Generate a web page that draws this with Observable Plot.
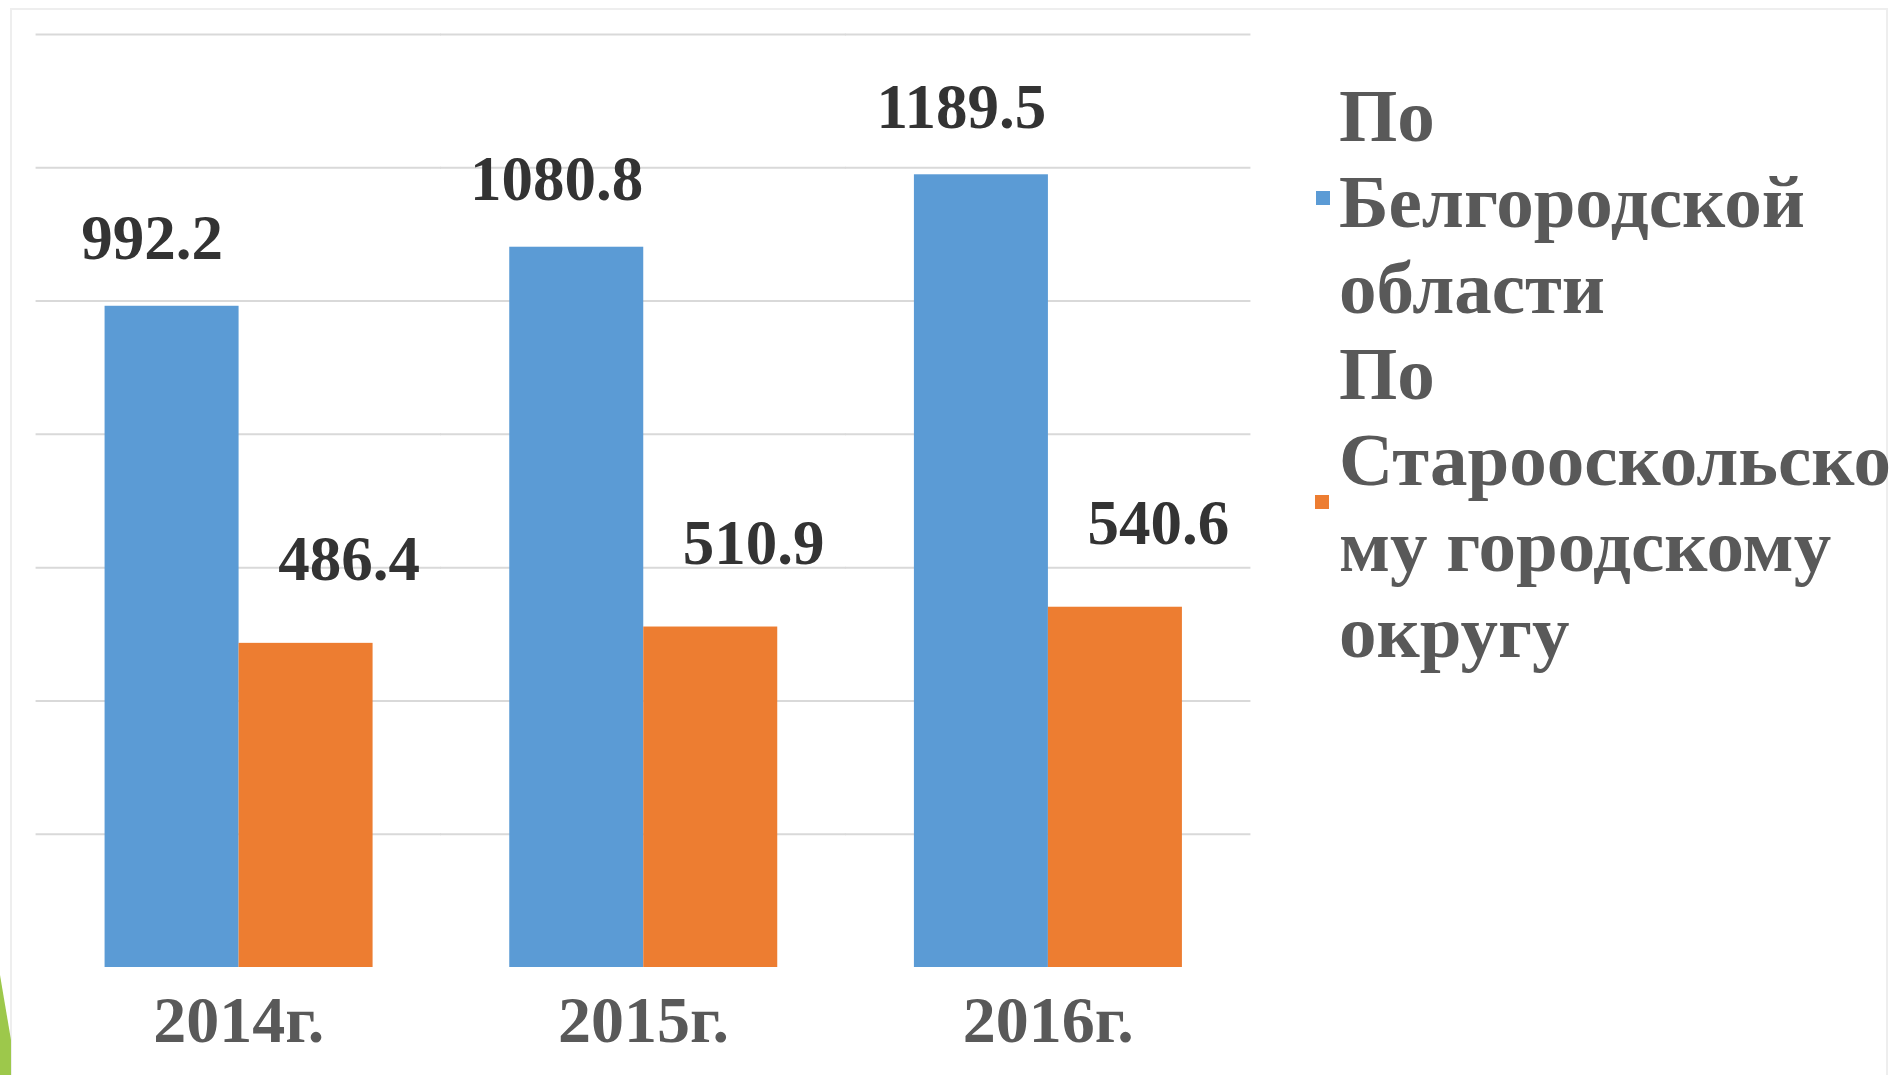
<!DOCTYPE html>
<html><head><meta charset="utf-8">
<script src="https://cdn.jsdelivr.net/npm/d3@7"></script>
<script src="https://cdn.jsdelivr.net/npm/@observablehq/plot@0.6"></script>
<style>
html,body{margin:0;padding:0;background:#fff;}
#wrap{position:relative;width:1900px;height:1075px;overflow:hidden;background:#fff;}
#chart{position:absolute;left:0;top:0;}
#frame{position:absolute;left:10px;top:8px;width:1878px;height:1100px;border:2px solid #eeeeee;box-sizing:border-box;}
#legend{position:absolute;left:1339px;top:73px;font-family:"Liberation Serif","Times New Roman",serif;font-weight:bold;font-size:75px;line-height:86px;color:#595959;white-space:pre-line;}
.sw{position:absolute;width:14px;height:14px;}
#deco{position:absolute;left:0;top:0;}
</style></head>
<body><div id="wrap"><div id="frame"></div><div id="chart"></div><div id="legend"></div><div id="sw0" class="sw" style="left:1316px;top:191px;"></div><div id="sw1" class="sw" style="left:1315px;top:495px;"></div><svg id="deco" width="20" height="1075"><polygon points="0,975 11,1040 11,1075 0,1075" fill="#9dc84b"/></svg></div>
<script>
const years = ["2014г.", "2015г.", "2016г."];
const series = ["По Белгородской области", "По Старооскольскому городскому округу"];
const belgorod = [992.2, 1080.8, 1189.5];
const stary = [486.4, 510.9, 540.6];
const yTicks = [200, 400, 600, 800, 1000, 1200, 1400];
const colors = ["#5b9bd5", "#ed7d31"];
const legendText = ["По\nБелгородской\nобласти", "По\nСтарооскольско\nму городскому\nокругу"];

const data = years.flatMap((yr, i) => [
  {year: yr, series: series[0], value: belgorod[i]},
  {year: yr, series: series[1], value: stary[i]}
]);
const font = '"Liberation Serif","Times New Roman",serif';
const labelStyle = {fx: "year", x: "series", y: "value", text: d => d.value.toFixed(1), lineAnchor: "bottom", fontSize: 63, fontWeight: "bold", fill: "#333333"};

const plot = Plot.plot({
  width: 1900, height: 1075,
  marginLeft: 36, marginRight: 650, marginTop: 34, marginBottom: 108,
  style: {fontFamily: font, background: "transparent"},
  fx: {domain: years, paddingInner: 0.334, paddingOuter: 0.167, label: null, round: false},
  x: {domain: series, padding: 0, axis: null},
  y: {domain: [0, 1400], axis: null},
  color: {domain: series, range: colors},
  marks: [
    Plot.ruleY(yTicks, {stroke: "#d9d9d9", strokeWidth: 2, insetLeft: -68, insetRight: -68}),
    Plot.barY(data, {fx: "year", x: "series", y: "value", fill: "series"}),
    Plot.text(data.filter(d => d.series === series[0]), {...labelStyle, dx: -20, dy: -47}),
    Plot.text(data.filter(d => d.series === series[1]), {...labelStyle, dx: 43, dy: -63}),
    Plot.axisFx({anchor: "bottom", tickSize: 0, tickPadding: 28, fontSize: 66, fontWeight: "bold", color: "#595959", label: null})
  ]
});
document.getElementById("chart").appendChild(plot);
document.getElementById("legend").textContent = legendText.join("\n");
document.getElementById("sw0").style.background = colors[0];
document.getElementById("sw1").style.background = colors[1];
</script>
</body></html>
